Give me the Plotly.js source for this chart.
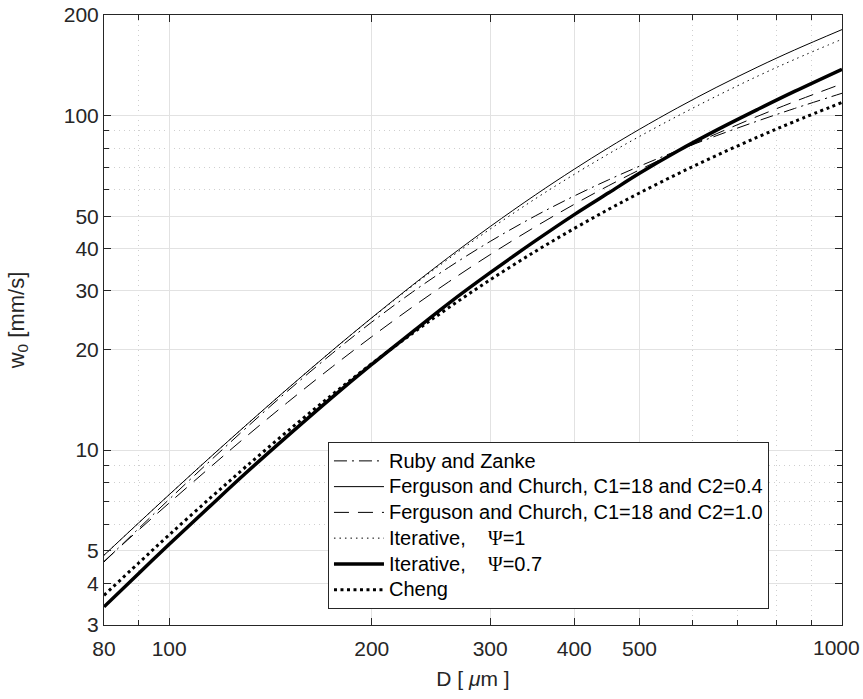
<!DOCTYPE html>
<html>
<head>
<meta charset="utf-8">
<script src="https://cdn.plot.ly/plotly-3.0.1.min.js"></script>
<style>html,body{margin:0;padding:0;background:#fff;}</style>
</head>
<body>
<div id="chart" style="width:863px;height:699px;"></div>
<script>
// Grain diameter D [µm]
const D = [80, 90, 100, 115, 130, 150, 175, 200, 230, 260, 300, 350, 400, 450, 500, 570, 650, 750, 850, 1000];
// Settling velocity w0 [mm/s]
const rubyZanke = [4.63, 5.82, 7.13, 9.28, 11.63, 15.02, 19.51, 24.14, 29.70, 35.14, 42.08, 50.14, 57.53, 64.33, 70.61, 78.67, 87.04, 96.49, 105.07, 116.70];
const fergusonC04 = [4.85, 6.05, 7.36, 9.51, 11.86, 15.27, 19.91, 24.87, 31.15, 37.68, 46.62, 57.93, 69.19, 80.27, 91.06, 105.63, 121.43, 139.94, 157.17, 180.89];
const fergusonC10 = [4.65, 5.76, 6.95, 8.88, 10.96, 13.90, 17.79, 21.83, 26.80, 31.80, 38.43, 46.53, 54.33, 61.78, 68.87, 78.24, 88.20, 99.66, 110.18, 124.53];
const iterPsi1 = [4.85, 6.05, 7.36, 9.51, 11.86, 15.27, 19.91, 24.82, 30.97, 37.30, 45.82, 56.42, 66.77, 76.90, 86.69, 99.82, 114.27, 131.40, 147.27, 169.31];
const iterPsi07 = [3.40, 4.27, 5.23, 6.80, 8.54, 11.03, 14.43, 18.04, 22.58, 27.43, 33.93, 42.22, 50.61, 58.79, 67.23, 78.41, 90.37, 104.49, 118.16, 137.67];
const cheng = [3.68, 4.59, 5.58, 7.18, 8.92, 11.40, 14.69, 18.13, 22.36, 26.63, 32.31, 39.27, 46.01, 52.49, 58.72, 67.01, 75.94, 86.36, 96.07, 109.52];

const seriesNames = [
  "Ruby and Zanke",
  "Ferguson and Church, C1=18 and C2=0.4",
  "Ferguson and Church, C1=18 and C2=1.0",
  "Iterative,\u00A0\u00A0\u00A0 <span style=\"font-family:'Liberation Serif'\">\u03A8</span>=1",
  "Iterative,\u00A0\u00A0\u00A0 <span style=\"font-family:'Liberation Serif'\">\u03A8</span>=0.7",
  "Cheng"
];

const xMajor = [80, 100, 200, 300, 400, 500, 1000];
const xMajorText = ['80', '100', '200', '300', '400', '500', ''];
const xLastLabel = '1000';
const xMinor = [90, 600, 700, 800, 900];
const yMajor = [3, 4, 5, 10, 20, 30, 40, 50, 100, 200];
const yMinor = [6, 7, 8, 9, 60, 70, 80, 90];

function wrap(t) { return '<span style="font-size:20px">' + t + '</span>'; }

const traces = [
  {x: D, y: rubyZanke, name: wrap(seriesNames[0]), line: {color: '#000', width: 1, dash: '13px,5px,2px,5px', shape: 'spline'}},
  {x: D, y: fergusonC04, name: wrap(seriesNames[1]), line: {color: '#000', width: 1, dash: 'solid', shape: 'spline'}},
  {x: D, y: fergusonC10, name: wrap(seriesNames[2]), line: {color: '#000', width: 1, dash: '15px,9px', shape: 'spline'}},
  {x: D, y: iterPsi1, name: wrap(seriesNames[3]), line: {color: '#000', width: 1, dash: '1.5px,4px', shape: 'spline'}},
  {x: D, y: iterPsi07, name: wrap(seriesNames[4]), line: {color: '#000', width: 3.5, dash: 'solid', shape: 'spline'}},
  {x: D, y: cheng, name: wrap(seriesNames[5]), line: {color: '#000', width: 3, dash: '3px,3.5px', shape: 'spline'}}
].map(t => Object.assign({type: 'scatter', mode: 'lines'}, t));

const tickFont = {family: 'Liberation Sans, Arial, sans-serif', size: 21, color: '#262626'};

const axisCommon = {
  type: 'log',
  showline: true, linecolor: '#262626', linewidth: 1, mirror: 'ticks',
  ticks: 'inside', ticklen: 7, tickwidth: 1, tickcolor: '#262626',
  showgrid: true, gridcolor: '#e2e2e2', gridwidth: 1,
  zeroline: false,
  tickfont: tickFont,
  tickmode: 'array'
};

const layout = {
  width: 863, height: 699,
  margin: {l: 104, r: 21, t: 15, b: 74},
  paper_bgcolor: '#fff', plot_bgcolor: '#fff',
  font: {family: 'Liberation Sans, Arial, sans-serif', color: '#262626'},
  showlegend: true,
  xaxis: Object.assign({}, axisCommon, {
    range: [Math.log10(80), Math.log10(1000)],
    tickvals: xMajor, ticktext: xMajorText,
    ticklabelstandoff: 5,
    minor: {tickmode: 'array', tickvals: xMinor, ticks: 'inside', ticklen: 5, tickcolor: '#262626', showgrid: true, gridcolor: '#cfcfcf', griddash: '1px,4px', gridwidth: 1},
    title: {text: 'D [ <i>\u03BC</i>m ]', font: {size: 21, color: '#262626'}, standoff: 12}
  }),
  yaxis: Object.assign({}, axisCommon, {
    range: [Math.log10(3), Math.log10(200)],
    tickvals: yMajor, ticktext: yMajor.map(String),
    minor: {tickmode: 'array', tickvals: yMinor, ticks: 'inside', ticklen: 5, tickcolor: '#262626', showgrid: true, gridcolor: '#cfcfcf', griddash: '1px,4px', gridwidth: 1},
    title: {text: 'w<sub>0</sub> [mm/s]', font: {size: 22, color: '#262626'}, standoff: 33}
  }),
  annotations: [{
    xref: 'paper', yref: 'paper', x: 1, y: 0,
    xanchor: 'right', yanchor: 'top', xshift: 20, yshift: -9,
    text: xLastLabel, showarrow: false, font: tickFont
  }],
  legend: {
    x: 0.3035, y: 0.3, xanchor: 'left', yanchor: 'top',
    bgcolor: '#fff', bordercolor: '#262626', borderwidth: 1,
    font: {size: 17.5, color: '#000'},
    itemwidth: 50, tracegroupgap: 0
  }
};

Plotly.newPlot('chart', traces, layout, {staticPlot: true, displayModeBar: false});
</script>
</body>
</html>
